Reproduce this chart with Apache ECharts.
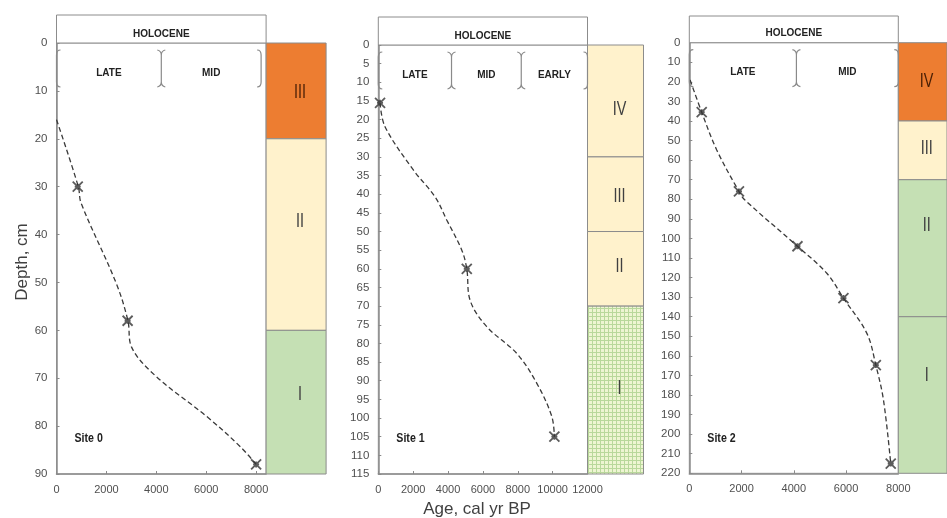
<!DOCTYPE html>
<html><head><meta charset="utf-8">
<script src="https://cdn.jsdelivr.net/npm/echarts@6/dist/echarts.min.js"></script>
<style>html,body{margin:0;padding:0;background:#fff}#c{width:947px;height:518px}</style>
</head><body><div id="c"></div>
<script>
// ---------- DATA ----------
const siteNames = ['Site 0', 'Site 1', 'Site 2'];

const site0DateAge = [850, 2850, 8000];
const site0DateDepth = [30, 58, 88];
const site0CurveAge = [0, 875, 983, 2395, 2863, 3000, 4008, 6024, 7367, 8000];
const site0CurveDepth = [16, 30, 33.4, 50.2, 58, 63.4, 69.7, 78, 84.3, 88];

const site1DateAge = [100, 5075, 10100];
const site1DateDepth = [15.5, 60, 105];
const site1CurveAge = [100, 385, 2010, 3255, 3925, 4790, 5075, 5264, 6220, 7945, 9093, 9954, 10100];
const site1CurveDepth = [15.5, 21.9, 33.5, 40.7, 46.9, 55, 60, 68.4, 75.5, 82.7, 90.7, 99.6, 105];

const site2DateAge = [475, 1900, 4140, 5900, 7140, 7710];
const site2DateDepth = [35.5, 76, 104, 130.5, 164.7, 215];
const site2CurveAge = [30, 475, 1050, 1900, 2130, 4140, 5264, 5900, 6797, 7140, 7433, 7710];
const site2CurveDepth = [19, 35.5, 54.8, 76, 80.4, 104, 117.8, 130.5, 148.5, 164.7, 182.6, 215];

const site0ZoneNames = ['III', 'II', 'I'];
const site0ZoneTops = [0, 20, 60];
const site0ZoneBottoms = [20, 60, 90];
const site0ZoneLabelDepth = [10.4, 37.3, 73.5];
const site1ZoneNames = ['IV', 'III', 'II', 'I'];
const site1ZoneTops = [0, 30, 50, 70];
const site1ZoneBottoms = [30, 50, 70, 115];
const site1ZoneLabelDepth = [17.4, 40.5, 59.4, 92];
const site2ZoneNames = ['IV', 'III', 'II', 'I'];
const site2ZoneTops = [0, 40, 70, 140];
const site2ZoneBottoms = [40, 70, 140, 220];
const site2ZoneLabelDepth = [19.9, 54, 93.2, 169.8];

const epochName = 'HOLOCENE';
const site0PeriodNames = ['LATE', 'MID'];
const site0PeriodBounds = [0, 4200, 8200];
const site1PeriodNames = ['LATE', 'MID', 'EARLY'];
const site1PeriodBounds = [0, 4200, 8200, 12000];
const site2PeriodNames = ['LATE', 'MID'];
const site2PeriodBounds = [0, 4100, 8000];

const ageMax = [8400, 12000, 8000];
const ageStep = [2000, 2000, 2000];
const depthMax = [90, 115, 220];
const depthStep = [10, 5, 10];

const yAxisTitle = 'Depth, cm';
const xAxisTitle = 'Age, cal yr BP';

// ---------- STYLE / LAYOUT ----------
const plotBox = [
  {left: 56.5, top: 43, width: 209.6, height: 431, boxTop: 15},
  {left: 378.3, top: 45, width: 209.2, height: 429, boxTop: 17},
  {left: 689.3, top: 42.7, width: 209, height: 430.6, boxTop: 16}
];
const zoneBox = [
  {left: 266.1, width: 60},
  {left: 587.5, width: 56},
  {left: 898.3, width: 60}
];
const patCanvas = document.createElement('canvas');
patCanvas.width = 4; patCanvas.height = 4;
(function(){
  const g = patCanvas.getContext('2d');
  g.fillStyle = '#eef5d2'; g.fillRect(0,0,4,4);
  g.fillStyle = '#b9d89b'; g.fillRect(0,0,4,1); g.fillRect(0,0,1,4);
})();
const fills = {orange: '#ED7D31', cream: '#FFF2CC', green: '#C5E0B4', dotted: {image: patCanvas, repeat: 'repeat'}};
const zoneFillKeys = [
  ['orange', 'cream', 'green'],
  ['cream', 'cream', 'cream', 'dotted'],
  ['orange', 'cream', 'green', 'green']
];
const zoneTextColor = {orange: '#4a1f05', cream: '#404040', green: '#404040', dotted: '#404040'};
const sans = '"Liberation Sans", Arial, sans-serif';
const axisGray = '#8a8a8a';
const labelGray = '#4f4f4f';

// ---------- BUILD ----------
const sites = [
  {dA: site0DateAge, dD: site0DateDepth, cA: site0CurveAge, cD: site0CurveDepth, zL: site0ZoneLabelDepth,
   zN: site0ZoneNames, zT: site0ZoneTops, zB: site0ZoneBottoms, pN: site0PeriodNames, pB: site0PeriodBounds},
  {dA: site1DateAge, dD: site1DateDepth, cA: site1CurveAge, cD: site1CurveDepth, zL: site1ZoneLabelDepth,
   zN: site1ZoneNames, zT: site1ZoneTops, zB: site1ZoneBottoms, pN: site1PeriodNames, pB: site1PeriodBounds},
  {dA: site2DateAge, dD: site2DateDepth, cA: site2CurveAge, cD: site2CurveDepth, zL: site2ZoneLabelDepth,
   zN: site2ZoneNames, zT: site2ZoneTops, zB: site2ZoneBottoms, pN: site2PeriodNames, pB: site2PeriodBounds}
];
const zip = (a, b) => a.map((v, i) => [v, b[i]]);

const grids = [], xAxes = [], yAxes = [], series = [];
sites.forEach((s, k) => {
  const p = plotBox[k];
  grids.push({left: p.left, top: p.top, width: p.width, height: p.height, show: true,
    borderColor: '#9a9a9a', borderWidth: 1, containLabel: false});
  xAxes.push({type: 'value', gridIndex: k, min: 0, max: ageMax[k], interval: ageStep[k],
    axisLine: {show: true, onZero: false, lineStyle: {color: axisGray, width: 1.5}},
    axisTick: {show: true, inside: true, length: 3, lineStyle: {color: axisGray}},
    splitLine: {show: false},
    axisLabel: {color: labelGray, fontFamily: sans, fontSize: 11, margin: 10,
      formatter: v => (v % ageStep[k] === 0 ? String(v) : '')}});
  yAxes.push({type: 'value', gridIndex: k, inverse: true, min: 0, max: depthMax[k], interval: depthStep[k],
    axisLine: {show: true, onZero: false, lineStyle: {color: axisGray, width: 1.5}},
    axisTick: {show: true, inside: true, length: 3, lineStyle: {color: axisGray}},
    splitLine: {show: false},
    axisLabel: {color: labelGray, fontFamily: sans, fontSize: 11.5, margin: 9}});
  series.push({type: 'line', xAxisIndex: k, yAxisIndex: k, data: zip(s.cA, s.cD), smooth: 0.35,
    showSymbol: false, silent: true, lineStyle: {color: '#3a3a3a', width: 1.3, type: [5, 3]}, z: 3});
  series.push({type: 'scatter', xAxisIndex: k, yAxisIndex: k, data: zip(s.dA, s.dD),
    symbol: 'path://M0,0L10,10M10,0L0,10M5,2L5,8M2,5L8,5', symbolSize: 10,
    itemStyle: {color: 'rgba(0,0,0,0)', borderColor: '#333', borderWidth: 1.8}, z: 4});
  // sub-period brackets, placed on the age axis
  const nB = s.pB.length;
  series.push({type: 'custom', xAxisIndex: k, yAxisIndex: k, clip: false, silent: true, z: 12,
    data: s.pB.map((v, i) => [v, 0, i]), encode: {x: 0, y: 1},
    renderItem: (params, api) => {
      const i = api.value(2);
      const x = api.coord([api.value(0), 0])[0];
      const t = params.coordSys.y + 7, b = params.coordSys.y + 44;
      let d;
      if (i === 0) d = `M${x+4},${t} Q${x},${t} ${x},${t+5} L${x},${b-5} Q${x},${b} ${x+4},${b}`;
      else if (i === nB - 1) d = `M${x-4},${t} Q${x},${t} ${x},${t+5} L${x},${b-5} Q${x},${b} ${x-4},${b}`;
      else d = `M${x-4},${t} Q${x},${t+1} ${x},${t+5} M${x+4},${t} Q${x},${t+1} ${x},${t+5} L${x},${b-5} M${x-4},${b} Q${x},${b-1} ${x},${b-5} M${x+4},${b} Q${x},${b-1} ${x},${b-5}`;
      return {type: 'path', shape: {pathData: d}, style: {fill: 'none', stroke: '#8a8a8a', lineWidth: 1.2}};
    }});
});
sites.forEach((s, k) => {
  const p = plotBox[k], z = zoneBox[k], gi = 3 + k;
  grids.push({left: z.left, top: p.top, width: z.width, height: p.height, show: false});
  xAxes.push({type: 'value', gridIndex: gi, min: 0, max: 1, show: false});
  yAxes.push({type: 'value', gridIndex: gi, inverse: true, min: 0, max: depthMax[k], show: false});
  const keys = zoneFillKeys[k];
  series.push({type: 'custom', xAxisIndex: gi, yAxisIndex: gi, silent: true, clip: false,
    data: s.zT.map((t, i) => [t, s.zB[i], i, s.zL[i]]),
    encode: {y: [0, 1]},
    renderItem: (params, api) => {
      const i = api.value(2);
      const a = api.coord([0, api.value(0)]), b = api.coord([1, api.value(1)]);
      const ly = api.coord([0, api.value(3)])[1];
      const key = keys[i];
      return {type: 'group', children: [
        {type: 'rect', shape: {x: a[0], y: a[1], width: b[0] - a[0], height: b[1] - a[1]},
          style: {fill: fills[key], stroke: '#8c8c8c', lineWidth: 1}},
        {type: 'text', x: (a[0] + b[0]) / 2 + 4, y: ly, scaleX: 0.72,
          style: {text: s.zN[i], x: 0, y: 0,
          align: 'center', verticalAlign: 'middle', fill: zoneTextColor[key],
          font: '20px ' + sans}}
      ]};
    }});
});

const chart = echarts.init(document.getElementById('c'), null, {renderer: 'canvas'});
chart.setOption({animation: false, backgroundColor: '#fff', grid: grids, xAxis: xAxes, yAxis: yAxes, series: series});

// annotations positioned through the axes
const gfx = [];
sites.forEach((s, k) => {
  const p = plotBox[k];
  const px = v => chart.convertToPixel({gridIndex: k}, [v, 0])[0];
  const x0 = px(0), x1 = px(ageMax[k]);
  gfx.push({type: 'rect', shape: {x: x0, y: p.boxTop, width: x1 - x0, height: p.top - p.boxTop},
    style: {fill: '#fff', stroke: '#8c8c8c', lineWidth: 1}, z: 10});
  gfx.push({type: 'text', style: {text: epochName, x: (x0 + x1) / 2, y: p.top - 9,
    align: 'center', verticalAlign: 'middle', fill: '#222', font: 'bold 10px ' + sans}, z: 11});
  s.pN.forEach((n, i) => {
    gfx.push({type: 'text', style: {text: n, x: (px(s.pB[i]) + px(s.pB[i + 1])) / 2, y: p.top + 30,
      align: 'center', verticalAlign: 'middle', fill: '#222', font: 'bold 10px ' + sans}, z: 11});
  });
  gfx.push({type: 'text', x: p.left + 18, y: p.top + p.height - 35, scaleX: 0.85,
    style: {text: siteNames[k], x: 0, y: 0,
    align: 'left', verticalAlign: 'middle', fill: '#222', font: 'bold 12.5px ' + sans}, z: 11});
});
gfx.push({type: 'text', rotation: Math.PI / 2, x: 22, y: 262,
  style: {text: yAxisTitle, x: 0, y: 0, align: 'center', verticalAlign: 'middle', fill: '#404040', font: '17px ' + sans}});
gfx.push({type: 'text', style: {text: xAxisTitle, x: 477, y: 509, align: 'center', verticalAlign: 'middle',
  fill: '#404040', font: '17px ' + sans}});
chart.setOption({graphic: gfx});
</script></body></html>
